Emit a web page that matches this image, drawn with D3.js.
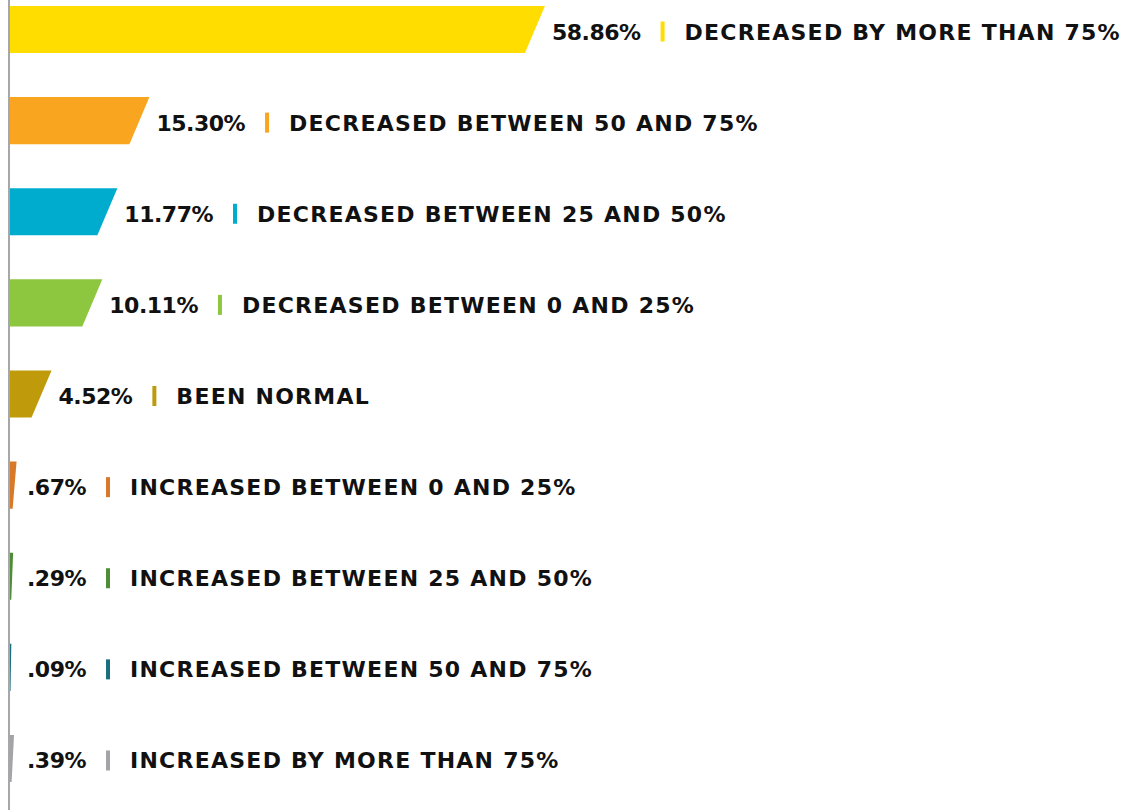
<!DOCTYPE html>
<html>
<head>
<meta charset="utf-8">
<script src="https://cdn.jsdelivr.net/npm/d3@7"></script>
<style>
  body { margin: 0; background: #fff; }
  svg { display: block; }
  .lbl { font-family: "DejaVu Sans", sans-serif; font-weight: bold; font-size: 22px; fill: #111; }
</style>
</head>
<body>
<div id="chart"></div>
<script>
// data
var categories = [
  "DECREASED BY MORE THAN 75%",
  "DECREASED BETWEEN 50 AND 75%",
  "DECREASED BETWEEN 25 AND 50%",
  "DECREASED BETWEEN 0 AND 25%",
  "BEEN NORMAL",
  "INCREASED BETWEEN 0 AND 25%",
  "INCREASED BETWEEN 25 AND 50%",
  "INCREASED BETWEEN 50 AND 75%",
  "INCREASED BY MORE THAN 75%"
];
var values = [58.86, 15.30, 11.77, 10.11, 4.52, 0.67, 0.29, 0.09, 0.39];
var valueLabels = ["58.86%", "15.30%", "11.77%", "10.11%", "4.52%", ".67%", ".29%", ".09%", ".39%"];
var colors = ["#ffdd00", "#f9a51f", "#00accd", "#8dc63f", "#bf9b0b", "#d8792a", "#4e8c35", "#1a6f7e", "#a3a4a7"];

var width = 1123, height = 810;
var axisX = 9;

var data = categories.map(function(c, i) {
  return {category: c, value: values[i], label: valueLabels[i], color: colors[i]};
});

var svg = d3.select("#chart").append("svg")
    .attr("width", width)
    .attr("height", height);

var x = d3.scaleLinear()
    .domain([0, 60])
    .range([10.5, 10.5 + 60 * 9.08]);

var y = d3.scaleBand()
    .domain(categories)
    .range([6, 782])
    .paddingInner(0.484)
    .paddingOuter(0);

var bh = y.bandwidth();

var rows = svg.append("g").selectAll("g")
    .data(data)
    .enter().append("g")
    .attr("transform", function(d) { return "translate(0," + y(d.category) + ")"; });

// slanted bars
rows.append("path")
    .attr("fill", function(d) { return d.color; })
    .attr("d", function(d) {
      var r = x(d.value);
      var s = Math.min(20, (r - 10) * 0.6);
      return "M10,0L" + r + ",0L" + (r - s) + "," + bh + "L10," + bh + "Z";
    });

// value text
rows.append("text")
    .attr("class", "lbl")
    .attr("x", function(d) { return Math.max(x(d.value) + 7, 27); })
    .attr("y", bh / 2 + 10)
    .style("letter-spacing", "-0.5px")
    .text(function(d) { return d.label; });

rows.each(function(d, i) {
  var g = d3.select(this);
  var t = g.select("text");
  var x0 = +t.attr("x") + t.node().getComputedTextLength();
  g.append("rect")
      .attr("x", x0 + 20)
      .attr("y", bh / 2 - 8)
      .attr("width", 4)
      .attr("height", 20)
      .attr("fill", d.color);
  g.append("text")
      .attr("class", "lbl")
      .attr("x", x0 + 44)
      .attr("y", bh / 2 + 10)
      .style("letter-spacing", "1.25px")
      .text(d.category);
});

// axis line
svg.append("line")
    .attr("x1", axisX).attr("x2", axisX)
    .attr("y1", 0).attr("y2", height)
    .attr("stroke", "#a7a7a9")
    .attr("stroke-width", 2);
</script>
</body>
</html>
